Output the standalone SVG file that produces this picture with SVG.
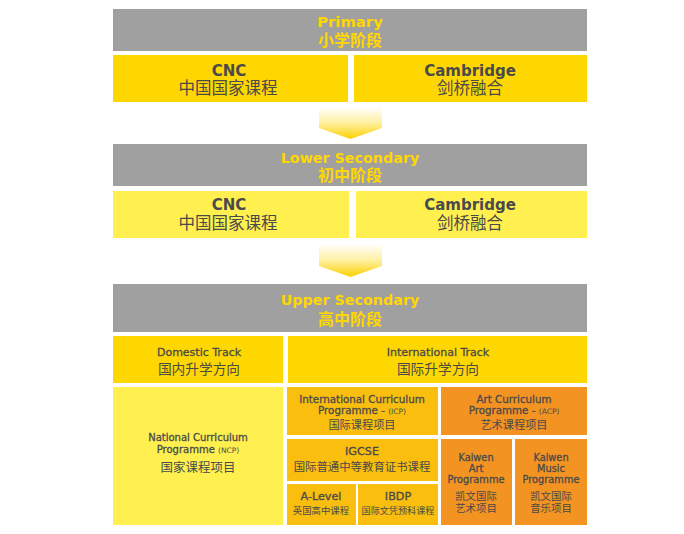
<svg xmlns="http://www.w3.org/2000/svg" width="684" height="534" viewBox="0 0 684 534">
<defs>
<linearGradient id="arr" x1="0" y1="0" x2="0" y2="1">
<stop offset="0" stop-color="#ffffff"/>
<stop offset="0.5" stop-color="#fff0a0"/>
<stop offset="1" stop-color="#fcd000"/>
</linearGradient>
<style>
.t{font-family:"DejaVu Sans","Noto Sans CJK SC",sans-serif;text-anchor:middle;fill:#4a4a4a}
.c{font-family:"Noto Sans CJK SC","DejaVu Sans",sans-serif;text-anchor:middle;fill:#4a4a4a}
.h{font-family:"DejaVu Sans","Noto Sans CJK SC",sans-serif;text-anchor:middle;fill:#ffd700;font-weight:700}
.hc{font-family:"Noto Sans CJK SC",sans-serif;text-anchor:middle;fill:#ffd700;font-weight:700}
.gray{fill:#a0a0a0}
.gold{fill:#ffd700}
.lemon{fill:#fff050}
.amber{fill:#f9be0e}
.orange{fill:#f39322}
.b{font-weight:700}
.m{stroke:#4a4a4a;stroke-width:0.3px}
.s{font-size:7.5px;stroke:none}
</style>
</defs>
<rect width="684" height="534" fill="#ffffff"/>
<g id="connectors">
<polygon points="319,107 382,107 382,128 350.5,139 319,128" fill="url(#arr)"/>
<polygon points="319,244 382,244 382,266 350.5,277 319,266" fill="url(#arr)"/>
</g>
<g id="primary">
<rect class="gray" x="113" y="9" width="474" height="42"/>
<text class="h" x="350" y="27" font-size="14.8">Primary</text>
<text class="hc" x="350" y="45.5" font-size="16">小学阶段</text>
</g>
<g id="primary-cnc">
<rect class="gold" x="113" y="55" width="235" height="47"/>
<text class="t b" x="229" y="75.5" font-size="15">CNC</text>
<text class="c" x="228" y="94" font-size="16.5">中国国家课程</text>
</g>
<g id="primary-cambridge">
<rect class="gold" x="354" y="55" width="233" height="47"/>
<text class="t b" x="470" y="75.5" font-size="15">Cambridge</text>
<text class="c" x="470" y="94" font-size="16.5">剑桥融合</text>
</g>
<g id="lower">
<rect class="gray" x="113" y="144" width="474" height="42"/>
<text class="h" x="350" y="163" font-size="14.3">Lower Secondary</text>
<text class="hc" x="350" y="181" font-size="16">初中阶段</text>
</g>
<g id="lower-cnc">
<rect class="lemon" x="113" y="191" width="236" height="47"/>
<text class="t b" x="229" y="210" font-size="15">CNC</text>
<text class="c" x="228" y="228.5" font-size="16.5">中国国家课程</text>
</g>
<g id="lower-cambridge">
<rect class="lemon" x="356" y="191" width="231" height="47"/>
<text class="t b" x="470" y="210" font-size="15">Cambridge</text>
<text class="c" x="470" y="228.5" font-size="16.5">剑桥融合</text>
</g>
<g id="upper">
<rect class="gray" x="113" y="284" width="474" height="48"/>
<text class="h" x="350" y="305" font-size="14.3">Upper Secondary</text>
<text class="hc" x="350" y="325" font-size="16">高中阶段</text>
</g>
<g id="domestic">
<rect class="gold" x="113" y="336" width="170" height="47"/>
<text class="t m" x="199" y="356" font-size="11">Domestic Track</text>
<text class="c" x="199" y="373.5" font-size="13.7">国内升学方向</text>
</g>
<g id="international">
<rect class="gold" x="288" y="336" width="299" height="47"/>
<text class="t m" x="438" y="356" font-size="11">International Track</text>
<text class="c" x="438" y="373.5" font-size="13.7">国际升学方向</text>
</g>
<g id="ncp">
<rect class="lemon" x="113" y="387" width="170" height="138"/>
<text class="t m" x="198" y="441" font-size="10">National Curriculum</text>
<text class="t m" x="198" y="453" font-size="10">Programme <tspan class="s">(NCP)</tspan></text>
<text class="c" x="198" y="472" font-size="12.5">国家课程项目</text>
</g>
<g id="icp">
<rect class="amber" x="287" y="387" width="151" height="48"/>
<text class="t m" x="362" y="403" font-size="10.3">International Curriculum</text>
<text class="t m" x="362" y="414" font-size="10.3">Programme - <tspan class="s">(ICP)</tspan></text>
<text class="c" x="362" y="429" font-size="11.2">国际课程项目</text>
</g>
<g id="acp">
<rect class="orange" x="441" y="387" width="146" height="48"/>
<text class="t m" x="514" y="403" font-size="10.3">Art Curriculum</text>
<text class="t m" x="514" y="414" font-size="10.3">Programme - <tspan class="s">(ACP)</tspan></text>
<text class="c" x="514" y="429" font-size="11.2">艺术课程项目</text>
</g>
<g id="igcse">
<rect class="amber" x="287" y="439" width="151" height="42"/>
<text class="t m" x="362" y="455" font-size="11.2">IGCSE</text>
<text class="c" x="362" y="471" font-size="11.4">国际普通中等教育证书课程</text>
</g>
<g id="alevel">
<rect class="amber" x="287" y="484" width="69" height="41"/>
<text class="t m" x="321" y="500" font-size="11.2">A-Level</text>
<text class="c" x="321" y="514" font-size="9.4">英国高中课程</text>
</g>
<g id="ibdp">
<rect class="amber" x="358" y="484" width="80" height="41"/>
<text class="t m" x="398" y="500" font-size="11.2">IBDP</text>
<text class="c" x="398" y="514" font-size="9.1">国际文凭预科课程</text>
</g>
<g id="kaiwen-art">
<rect class="orange" x="441" y="439" width="71" height="86"/>
<text class="t m" x="476" y="461" font-size="9.8">Kaiwen</text>
<text class="t m" x="476" y="472" font-size="9.8">Art</text>
<text class="t m" x="476" y="483" font-size="9.8">Programme</text>
<text class="c" x="476" y="500" font-size="10.4">凯文国际</text>
<text class="c" x="476" y="512" font-size="10.4">艺术项目</text>
</g>
<g id="kaiwen-music">
<rect class="orange" x="515" y="439" width="72" height="86"/>
<text class="t m" x="551" y="461" font-size="9.8">Kaiwen</text>
<text class="t m" x="551" y="472" font-size="9.8">Music</text>
<text class="t m" x="551" y="483" font-size="9.8">Programme</text>
<text class="c" x="551" y="500" font-size="10.4">凯文国际</text>
<text class="c" x="551" y="512" font-size="10.4">音乐项目</text>
</g>
</svg>
